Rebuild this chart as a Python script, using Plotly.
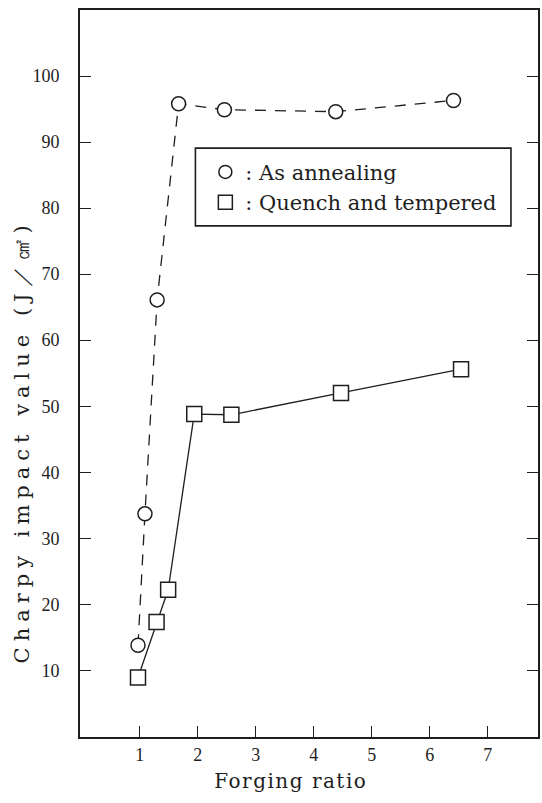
import plotly.graph_objects as go

# Forging ratio vs Charpy impact value
ratio_annealed = [0.97, 1.09, 1.30, 1.67, 2.46, 4.38, 6.41]
charpy_annealed = [13.8, 33.7, 66.1, 95.8, 94.9, 94.6, 96.3]

ratio_qt = [0.97, 1.29, 1.49, 1.94, 2.58, 4.47, 6.54]
charpy_qt = [8.9, 17.3, 22.2, 48.8, 48.7, 52.0, 55.6]

x_ticks = [1, 2, 3, 4, 5, 6, 7]
y_ticks = [10, 20, 30, 40, 50, 60, 70, 80, 90, 100]

label_annealed = ": As annealing"
label_qt = ": Quench and tempered"
x_title = "Forging ratio"
y_title = "Charpy impact value (J／㎠)"

INK = "#1e1e1e"
SERIF = "DejaVu Serif, Liberation Serif, serif"
NUM_FONT = "Liberation Serif, serif"

fig = go.Figure()

fig.add_trace(go.Scatter(
    x=ratio_annealed, y=charpy_annealed, mode="lines+markers",
    line=dict(color=INK, width=1.3, dash="11px,9px"),
    marker=dict(symbol="circle", size=14, color="white",
                line=dict(color=INK, width=1.5)),
    showlegend=False,
))
fig.add_trace(go.Scatter(
    x=ratio_qt, y=charpy_qt, mode="lines+markers",
    line=dict(color=INK, width=1.3),
    marker=dict(symbol="square", size=15, color="white",
                line=dict(color=INK, width=1.5)),
    showlegend=False,
))

# legend entries show the symbol only
fig.add_trace(go.Scatter(
    x=[None], y=[None], mode="markers", name=label_annealed,
    legendgroup="a",
    marker=dict(symbol="circle", size=13, color="white",
                line=dict(color=INK, width=1.5)),
))
fig.add_trace(go.Scatter(
    x=[None], y=[None], mode="markers", name=label_qt,
    legendgroup="b",
    marker=dict(symbol="square", size=14, color="white",
                line=dict(color=INK, width=1.5)),
))

axis_common = dict(
    showline=True, linecolor=INK, linewidth=1.6,
    ticks="inside", ticklen=11, tickwidth=1.3, tickcolor=INK,
    showgrid=False, zeroline=False,
    tickfont=dict(family=NUM_FONT, size=18, color=INK),
)

fig.update_xaxes(range=[-0.03, 7.867], tickvals=x_ticks, mirror=True,
                 ticklabelstandoff=1, **axis_common)
fig.update_yaxes(range=[-0.1, 110], tickvals=y_ticks, mirror="ticks",
                 ticklabelstandoff=15, **axis_common)

fig.add_annotation(
    text=x_title, xref="paper", yref="paper", x=0.46, y=-0.0605,
    xanchor="center", yanchor="middle", showarrow=False,
    font=dict(family=SERIF, size=20, color=INK),
)
fig.add_annotation(
    text=y_title, xref="paper", yref="paper", x=-0.126, y=0.407,
    xanchor="center", yanchor="middle", showarrow=False, textangle=-90,
    font=dict(family=SERIF, size=21, color=INK),
)

# frame around the legend
fig.add_shape(type="rect", xref="paper", yref="paper",
              x0=0.252, x1=0.941, y0=0.703, y1=0.810,
              line=dict(color=INK, width=1.6), fillcolor="rgba(0,0,0,0)")

fig.update_layout(
    width=542, height=803,
    margin=dict(l=80, r=2, t=10, b=66),
    plot_bgcolor="white", paper_bgcolor="white",
    legend=dict(x=0.2737, y=0.805, xanchor="left", yanchor="top",
                bgcolor="rgba(0,0,0,0)", borderwidth=0,
                tracegroupgap=0,
                font=dict(family=SERIF, size=21, color=INK)),
)

spacing_js = """
var gd = document.getElementById('{plot_id}');
var anns = gd.querySelectorAll('text.annotation-text');
if (anns[0]) anns[0].style.letterSpacing = '1.5px';
if (anns[1]) anns[1].style.letterSpacing = '6px';
"""

fig.write_html("out.html", post_script=spacing_js)
